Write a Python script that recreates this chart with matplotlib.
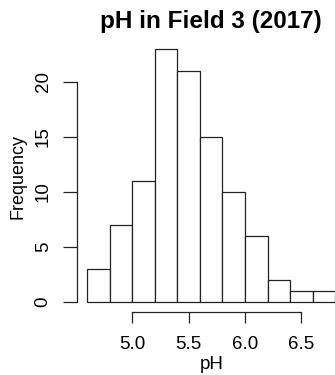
import numpy as np
import matplotlib
matplotlib.use("Agg")
from matplotlib import pyplot as plt

plt.rcParams['font.family'] = ['Liberation Sans', 'DejaVu Sans']

# histogram of pH readings, bins of 0.2
breaks = [4.6, 4.8, 5.0, 5.2, 5.4, 5.6, 5.8, 6.0, 6.2, 6.4, 6.6, 6.8]
counts = [3, 7, 11, 23, 21, 15, 10, 6, 2, 1, 1]
xticks = [5.0, 5.5, 6.0, 6.5]
yticks = [0, 5, 10, 15, 20]

W, H = 335, 375
fig = plt.figure(figsize=(W / 100, H / 100), dpi=100)

# plot region in pixels (right edge runs past the figure, like the crop)
left, right, top, bottom = 77.4, 345.0, 38.9, 312.0
ax = fig.add_axes([left / W, 1 - bottom / H, (right - left) / W, (bottom - top) / H])

lw = 0.9
ax.bar(breaks[:-1], counts, width=np.diff(breaks), align='edge',
       facecolor='white', edgecolor='#222222', linewidth=lw)

pad_x = (breaks[-1] - breaks[0]) * 0.04
ax.set_xlim(breaks[0] - pad_x, breaks[-1] + pad_x)
ax.set_ylim(-max(counts) * 0.04, max(counts) * 1.04)

for s in ['top', 'right']:
    ax.spines[s].set_visible(False)
ax.spines['left'].set_bounds(yticks[0], yticks[-1])
ax.spines['bottom'].set_bounds(xticks[0], xticks[-1])
for s in ['left', 'bottom']:
    ax.spines[s].set_linewidth(lw)
    ax.spines[s].set_color('#222222')

ax.set_xticks(xticks)
ax.set_xticklabels([f"{t:.1f}" for t in xticks])
ax.set_yticks(yticks)
ax.set_yticklabels([str(t) for t in yticks], rotation=90, va='center')
ax.tick_params(axis='x', length=8, width=lw, pad=9, labelsize=13.5, color='#222222')
ax.tick_params(axis='y', length=10, width=lw, pad=8.5, labelsize=13.5, color='#222222')

fig.text(211 / W, 1 - 28 / H, "pH in Field 3 (2017)", ha='center', va='baseline',
         fontsize=17.5, fontweight='bold')
fig.text(212 / W, 1 - 369 / H, "pH", ha='center', va='baseline', fontsize=13.5)
fig.text(18 / W, 1 - 176 / H, "Frequency", ha='center', va='center',
         rotation=90, fontsize=13)

fig.savefig("out.png", dpi=100)
